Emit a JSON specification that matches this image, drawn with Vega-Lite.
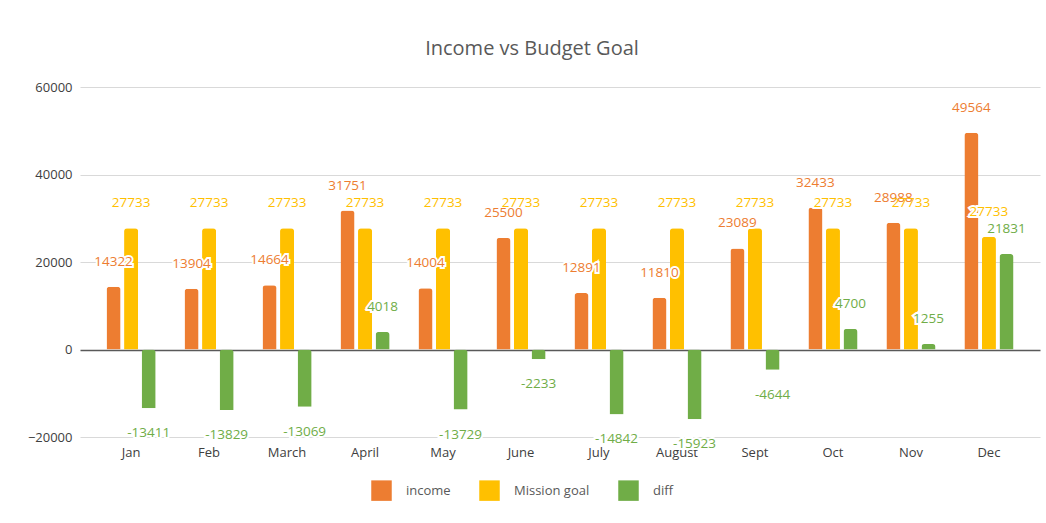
{
  "$schema": "https://vega.github.io/schema/vega-lite/v6.json",
  "width": 960,
  "height": 350,
  "autosize": {"type": "none"},
  "padding": {"left": 80, "top": 87, "right": 6, "bottom": 86},
  "background": "white",
  "title": {"text": "Income vs Budget Goal", "fontSize": 20, "font": "Open Sans", "fontWeight": "normal", "color": "#595959", "anchor": "middle", "dx": -28, "offset": 22},
  "config": {"view": {"stroke": null}},
  "data": {"values": [
    {"month": "Jan", "series": "income", "value": 14322, "label": "14322"},
    {"month": "Jan", "series": "Mission goal", "value": 27733, "label": "27733"},
    {"month": "Jan", "series": "diff", "value": -13411, "label": "-13411"},
    {"month": "Feb", "series": "income", "value": 13904, "label": "13904"},
    {"month": "Feb", "series": "Mission goal", "value": 27733, "label": "27733"},
    {"month": "Feb", "series": "diff", "value": -13829, "label": "-13829"},
    {"month": "March", "series": "income", "value": 14664, "label": "14664"},
    {"month": "March", "series": "Mission goal", "value": 27733, "label": "27733"},
    {"month": "March", "series": "diff", "value": -13069, "label": "-13069"},
    {"month": "April", "series": "income", "value": 31751, "label": "31751"},
    {"month": "April", "series": "Mission goal", "value": 27733, "label": "27733"},
    {"month": "April", "series": "diff", "value": 4018, "label": "4018"},
    {"month": "May", "series": "income", "value": 14004, "label": "14004"},
    {"month": "May", "series": "Mission goal", "value": 27733, "label": "27733"},
    {"month": "May", "series": "diff", "value": -13729, "label": "-13729"},
    {"month": "June", "series": "income", "value": 25500, "label": "25500"},
    {"month": "June", "series": "Mission goal", "value": 27733, "label": "27733"},
    {"month": "June", "series": "diff", "value": -2233, "label": "-2233"},
    {"month": "July", "series": "income", "value": 12891, "label": "12891"},
    {"month": "July", "series": "Mission goal", "value": 27733, "label": "27733"},
    {"month": "July", "series": "diff", "value": -14842, "label": "-14842"},
    {"month": "August", "series": "income", "value": 11810, "label": "11810"},
    {"month": "August", "series": "Mission goal", "value": 27733, "label": "27733"},
    {"month": "August", "series": "diff", "value": -15923, "label": "-15923"},
    {"month": "Sept", "series": "income", "value": 23089, "label": "23089"},
    {"month": "Sept", "series": "Mission goal", "value": 27733, "label": "27733"},
    {"month": "Sept", "series": "diff", "value": -4644, "label": "-4644"},
    {"month": "Oct", "series": "income", "value": 32433, "label": "32433"},
    {"month": "Oct", "series": "Mission goal", "value": 27733, "label": "27733"},
    {"month": "Oct", "series": "diff", "value": 4700, "label": "4700"},
    {"month": "Nov", "series": "income", "value": 28988, "label": "28988"},
    {"month": "Nov", "series": "Mission goal", "value": 27733, "label": "27733"},
    {"month": "Nov", "series": "diff", "value": 1255, "label": "1255"},
    {"month": "Dec", "series": "income", "value": 49564, "label": "49564"},
    {"month": "Dec", "series": "Mission goal", "value": 25750, "label": "27733"},
    {"month": "Dec", "series": "diff", "value": 21831, "label": "21831"}
  ]},
  "encoding": {
    "x": {
      "field": "month", "type": "nominal",
      "sort": ["Jan", "Feb", "March", "April", "May", "June", "July", "August", "Sept", "Oct", "Nov", "Dec"],
      "scale": {"type": "band", "paddingInner": 0.37, "paddingOuter": 0.34},
      "axis": {"title": null, "labelAngle": 0, "domain": false, "ticks": false, "labelPadding": 9, "labelFontSize": 13, "labelColor": "#404040", "labelFont": "Open Sans"}
    },
    "xOffset": {"field": "series", "type": "nominal", "sort": ["income", "Mission goal", "diff"], "scale": {"paddingInner": 0.2}},
    "y": {
      "field": "value", "type": "quantitative",
      "scale": {"domain": [-20000, 60000], "nice": false},
      "axis": {
        "title": null, "values": [-20000, 0, 20000, 40000, 60000], "format": "d", "domain": false, "ticks": false,
        "labelPadding": 8, "labelFontSize": 13, "labelColor": "#404040", "labelFont": "Open Sans",
        "gridColor": {"condition": {"test": "datum.value === 0", "value": "#595959"}, "value": "#d9d9d9"},
        "gridWidth": {"condition": {"test": "datum.value === 0", "value": 1.5}, "value": 1}
      }
    },
    "color": {
      "field": "series", "type": "nominal",
      "scale": {"domain": ["income", "Mission goal", "diff"], "range": ["#ED7D31", "#FFC000", "#70AD47"]},
      "legend": {"orient": "none", "legendX": 291, "legendY": 393, "direction": "horizontal", "title": null, "symbolType": "square", "symbolSize": 420, "symbolStrokeWidth": 0, "symbolOpacity": 1, "labelFontSize": 13, "labelColor": "#595959", "labelFont": "Open Sans", "labelOffset": 14, "columnPadding": 28}
    }
  },
  "layer": [
    {"mark": {"type": "bar", "cornerRadiusEnd": 3}},
    {
      "transform": [{"filter": "datum.value >= 0"}],
      "mark": {"type": "text", "dy": -25, "fontSize": 13.5, "font": "Open Sans", "stroke": "white", "strokeWidth": 4, "fill": "white"},
      "encoding": {"text": {"field": "label"}, "color": {"value": "white"}}
    },
    {
      "transform": [{"filter": "datum.value < 0"}],
      "mark": {"type": "text", "dy": 25, "fontSize": 13.5, "font": "Open Sans", "stroke": "white", "strokeWidth": 4, "fill": "white"},
      "encoding": {"text": {"field": "label"}, "color": {"value": "white"}}
    },
    {
      "transform": [{"filter": "datum.value >= 0"}],
      "mark": {"type": "text", "dy": -25, "fontSize": 13.5, "font": "Open Sans"},
      "encoding": {"text": {"field": "label"}}
    },
    {
      "transform": [{"filter": "datum.value < 0"}],
      "mark": {"type": "text", "dy": 25, "fontSize": 13.5, "font": "Open Sans"},
      "encoding": {"text": {"field": "label"}}
    }
  ]
}
